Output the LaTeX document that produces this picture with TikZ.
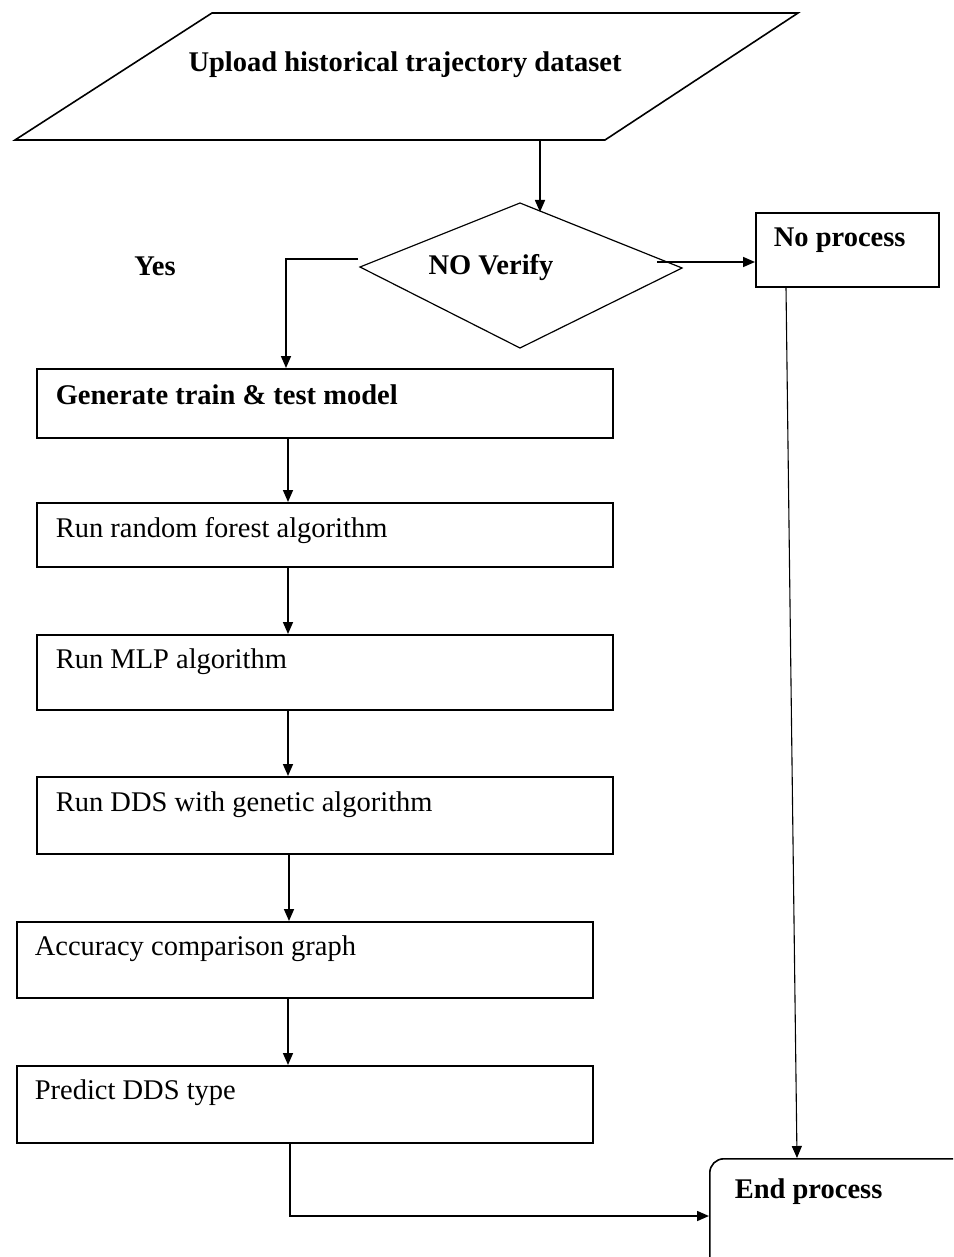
\documentclass[tikz,border=0pt]{standalone}
\usepackage{fontspec}
\setmainfont{Liberation Serif}
\usetikzlibrary{arrows.meta,calc}
\begin{document}
\begin{tikzpicture}[x=1pt,y=-1pt,
  line width=1.6pt,
  arr/.style={-{Triangle[length=12pt,width=10pt]}},
  boxshape/.style={draw,line width=1.6pt},
  bt/.style={font=\fontsize{28.5}{34}\selectfont\bfseries,anchor=west,inner sep=0pt},
  nt/.style={font=\fontsize{28.5}{34}\selectfont,anchor=west,inner sep=0pt}]
\useasboundingbox (0,0) rectangle (953,1257);
\clip (0,0) rectangle (953,1257);
% parallelogram
\draw[boxshape] (212,13) -- (798,13) -- (605,140) -- (15,140) -- cycle;
\coordinate (upb) at (540,140);
\node[bt,anchor=center] (uptxt) at (405,65) {Upload historical trajectory dataset};
% diamond
\draw[line width=1.2pt] (520,203) -- (682,268) -- (520,348) -- (360,267) -- cycle;
\coordinate (dtop) at (540,212);
\node[bt,anchor=center] (dtxt) at (491,268) {NO Verify};
\node[bt,anchor=center] (yes) at (155,266) {Yes};
\coordinate (dleft) at (358,259);
\coordinate (dright) at (657,262);
% No process
\node[boxshape,minimum width=183pt,minimum height=74pt,anchor=north west] (np) at (755,212) {};
\node[bt] (nptxt) at (773,240) {No process};
% End process
\node[draw,line width=1.6pt,rounded corners=14pt,minimum width=260pt,minimum height=140pt,anchor=north west] (ep) at (709,1158) {};
\node[bt] (eptxt) at (734,1192) {End process};
% process boxes
\node[boxshape,minimum width=576pt,minimum height=69pt,anchor=north west] (b1) at (36,368) {};
\node[bt] (t1) at (55,395) {Generate train \& test model};
\node[boxshape,minimum width=576pt,minimum height=64pt,anchor=north west] (b2) at (36,502) {};
\node[nt] (t2) at (55,531) {Run random forest algorithm};
\node[boxshape,minimum width=576pt,minimum height=75pt,anchor=north west] (b3) at (36,634) {};
\node[nt] (t3) at (55,662) {Run MLP algorithm};
\node[boxshape,minimum width=576pt,minimum height=77pt,anchor=north west] (b4) at (36,776) {};
\node[nt] (t4) at (55,805) {Run DDS with genetic algorithm};
\node[boxshape,minimum width=576pt,minimum height=76pt,anchor=north west] (b5) at (16,921) {};
\node[nt] (t5) at (34,949) {Accuracy comparison graph};
\node[boxshape,minimum width=576pt,minimum height=77pt,anchor=north west] (b6) at (16,1065) {};
\node[nt] (t6) at (34,1093) {Predict DDS type};
% connectors
\draw[arr] (upb) -- (dtop);
\draw[arr] (dleft) -- (286,259) -- (b1.north west -| 286,0);
\draw[arr] (dright) -- (dright -| np.west);
\draw[arr,line width=1.1pt] (np.south west) ++(31,0) coordinate (npb) -- (797,1158) coordinate (ept);
\draw[arr] (b1.south west) ++(252,0) coordinate (c1) -- (c1 |- b2.north);
\draw[arr] (b2.south west) ++(252,0) coordinate (c2) -- (c2 |- b3.north);
\draw[arr] (b3.south west) ++(252,0) coordinate (c3) -- (c3 |- b4.north);
\draw[arr] (b4.south west) ++(253,0) coordinate (c4) -- (c4 |- b5.north);
\draw[arr] (b5.south west) ++(272,0) coordinate (c5) -- (c5 |- b6.north);
\draw[arr] (b6.south west) ++(274,0) coordinate (c6) -- (290,1216) -- (ep.west |- 0,1216);
\end{tikzpicture}
\end{document}
